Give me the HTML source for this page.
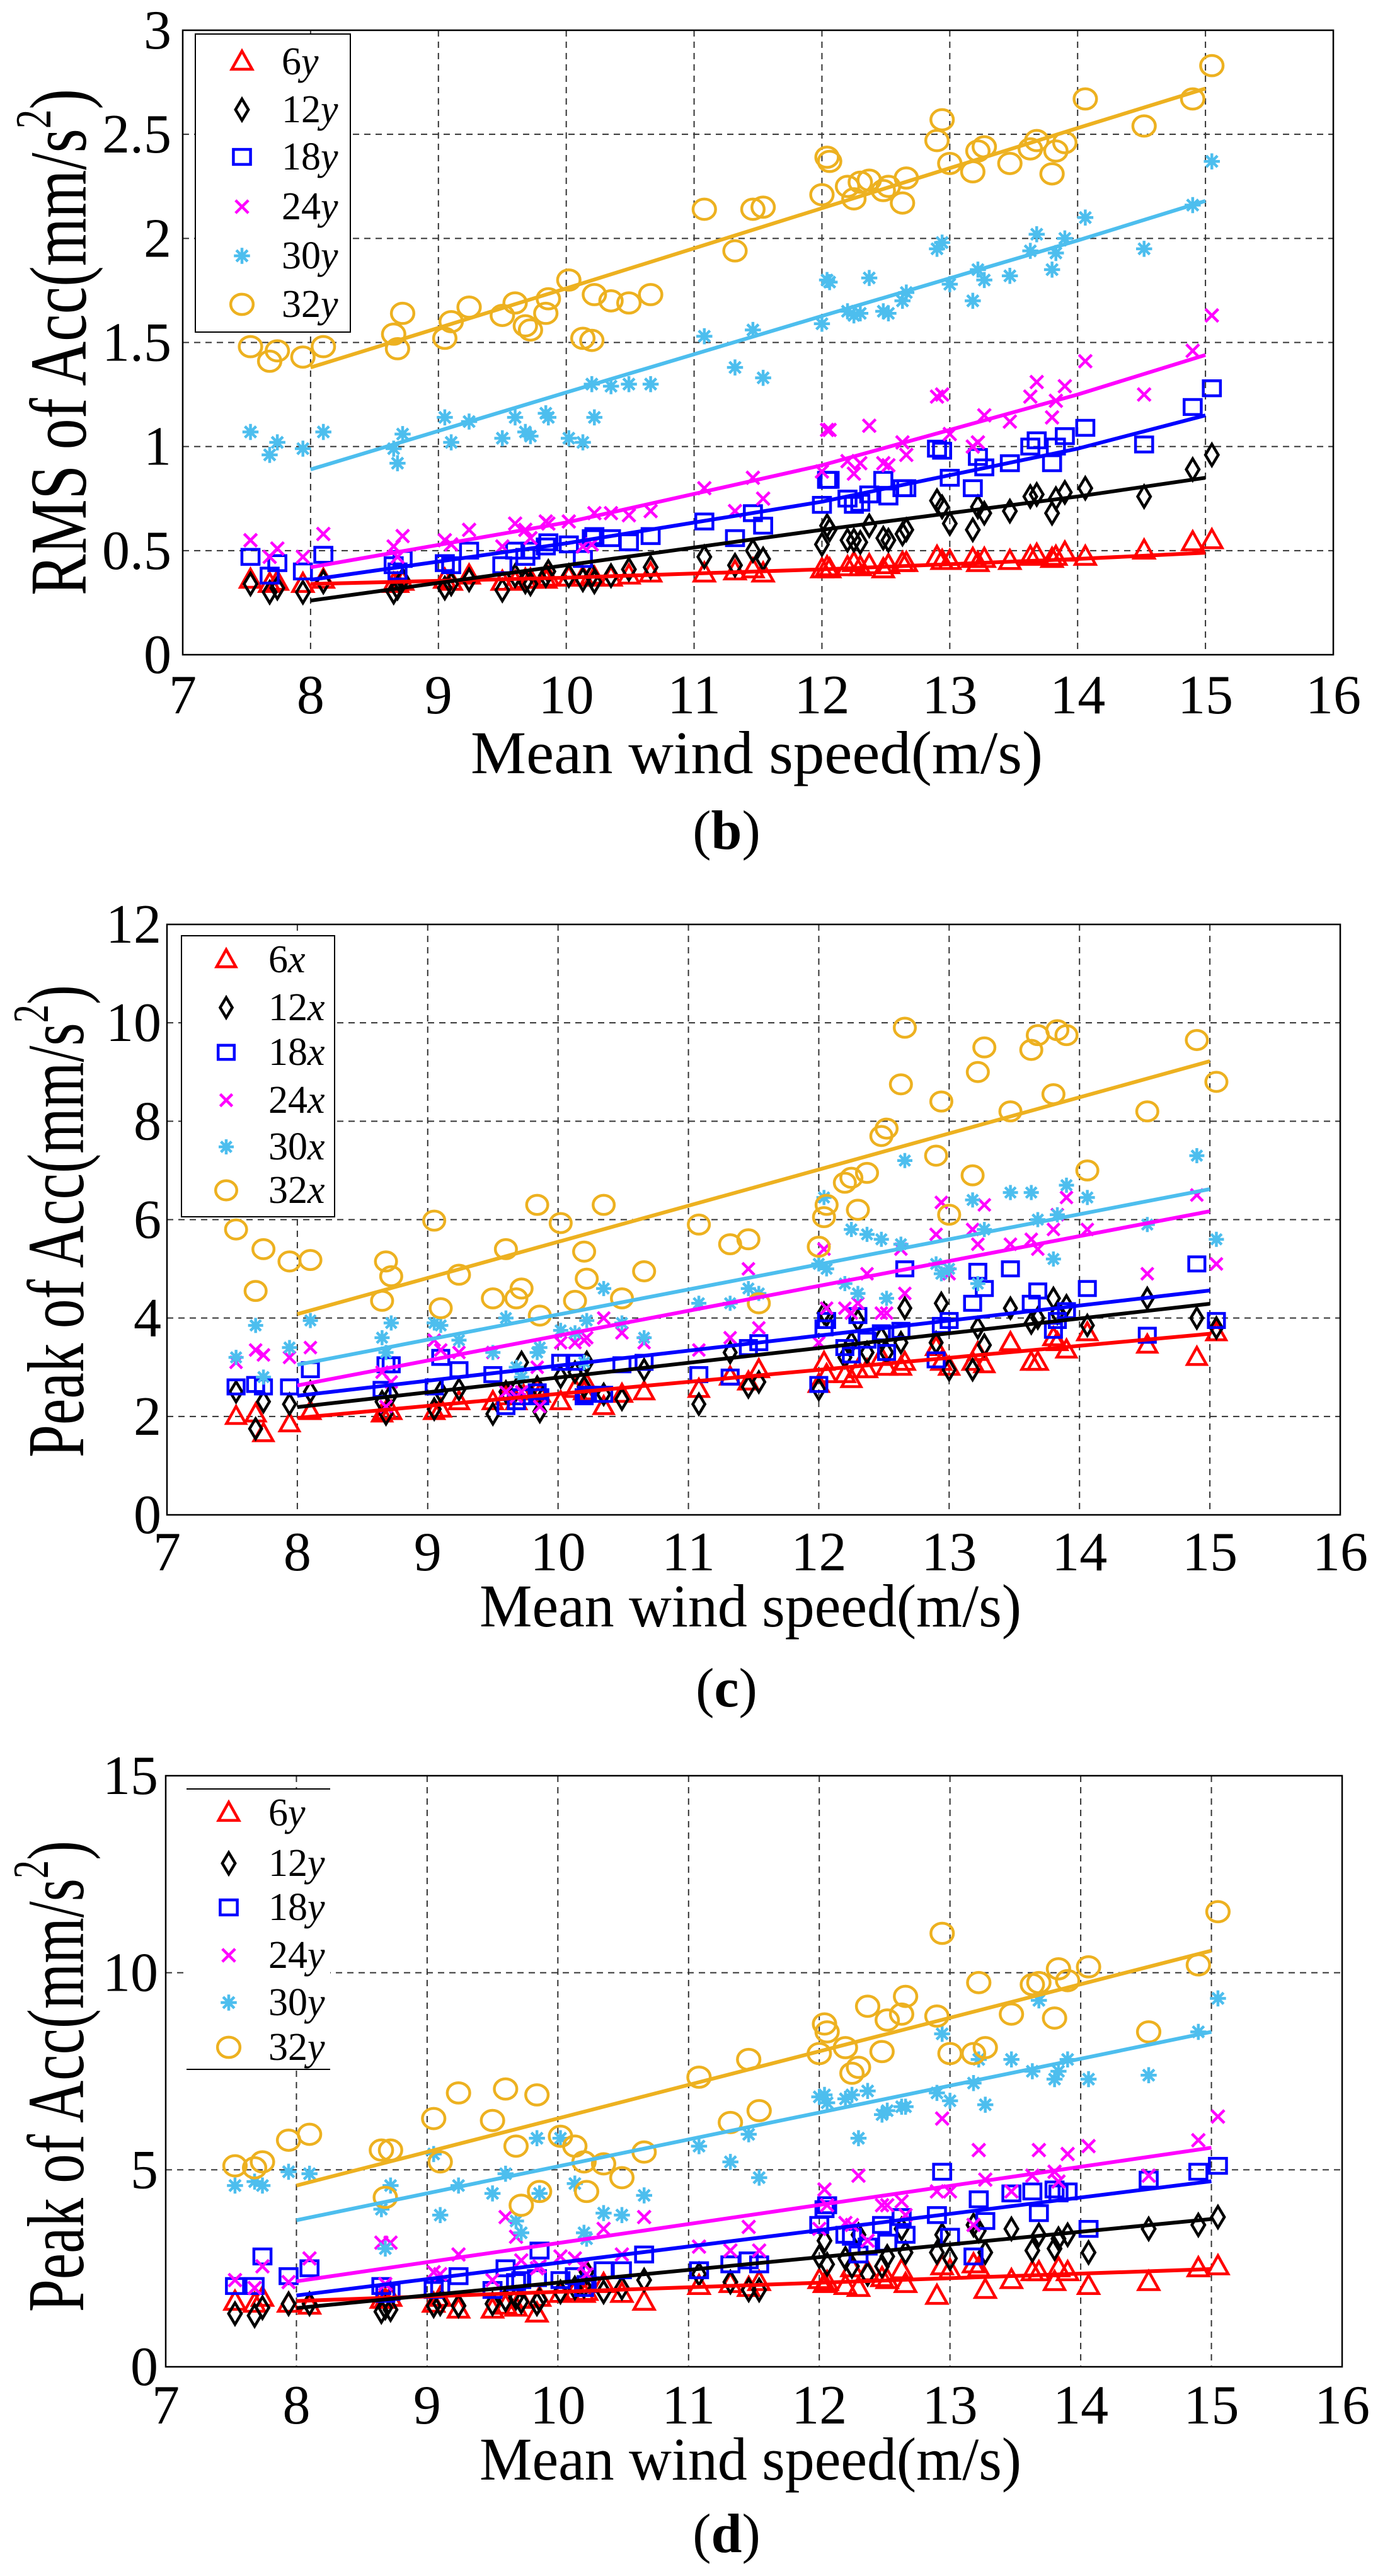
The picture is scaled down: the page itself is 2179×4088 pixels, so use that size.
<!DOCTYPE html>
<html><head><meta charset="utf-8">
<style>
html,body{margin:0;padding:0;background:#fff;}
svg{display:block;}
text{font-family:"Liberation Serif",serif;}
</style></head>
<body>
<svg id="fig" xmlns="http://www.w3.org/2000/svg" width="2179" height="4088" viewBox="0 0 2179 4088">
<rect width="2179" height="4088" fill="#fff"/>
</svg>
<script>
// shared wind speeds
const X = [7.53,7.68,7.74,7.94,8.1,8.65,8.68,8.72,9.05,9.1,9.24,9.5,9.6,9.68,9.72,9.84,9.86,10.02,10.13,10.2,10.22,10.35,10.49,10.66,11.08,11.32,11.46,11.54,12.0,12.04,12.06,12.2,12.25,12.3,12.37,12.48,12.52,12.63,12.66,12.9,12.94,13.0,13.18,13.22,13.27,13.47,13.63,13.68,13.8,13.83,13.9,14.06,14.52,14.9,15.05];
const seriesNames = ["6","12","18","24","30","32"];
const xTicks = [7,8,9,10,11,12,13,14,15,16];
// panel b: RMS
const B6 = [0.36,0.34,0.35,0.34,0.36,0.34,0.34,0.35,0.36,0.35,0.38,0.35,0.35,0.36,0.36,0.36,0.37,0.37,0.37,0.38,0.37,0.37,0.38,0.39,0.39,0.4,0.41,0.39,0.41,0.42,0.41,0.42,0.44,0.42,0.43,0.41,0.43,0.44,0.44,0.47,0.45,0.45,0.46,0.44,0.46,0.45,0.47,0.48,0.46,0.47,0.49,0.47,0.5,0.54,0.55];
const B12 = [0.34,0.3,0.32,0.3,0.35,0.3,0.32,0.36,0.32,0.34,0.36,0.31,0.38,0.35,0.34,0.38,0.4,0.38,0.36,0.38,0.35,0.38,0.41,0.42,0.47,0.43,0.5,0.46,0.53,0.62,0.6,0.55,0.55,0.54,0.62,0.56,0.55,0.58,0.6,0.74,0.71,0.63,0.6,0.71,0.68,0.69,0.76,0.77,0.68,0.75,0.78,0.8,0.76,0.89,0.96];
const B18 = [0.47,0.38,0.44,0.4,0.48,0.43,0.4,0.46,0.44,0.43,0.5,0.43,0.5,0.47,0.5,0.52,0.54,0.53,0.46,0.56,0.57,0.56,0.54,0.57,0.64,0.56,0.68,0.62,0.72,0.84,0.84,0.75,0.72,0.73,0.77,0.84,0.76,0.8,0.8,0.99,0.98,0.85,0.8,0.95,0.9,0.92,1.0,1.03,0.92,1.0,1.05,1.09,1.01,1.19,1.28];
const B24 = [0.55,0.47,0.51,0.47,0.58,0.52,0.47,0.57,0.55,0.53,0.6,0.52,0.63,0.6,0.56,0.64,0.63,0.64,0.52,0.53,0.68,0.68,0.67,0.69,0.8,0.69,0.85,0.75,0.88,1.08,1.08,0.93,0.87,0.92,1.1,0.92,0.91,1.02,0.96,1.24,1.25,1.06,1.0,1.02,1.15,1.12,1.24,1.31,1.14,1.22,1.29,1.41,1.25,1.46,1.63];
const B30 = [1.07,0.96,1.02,0.99,1.07,0.99,0.92,1.06,1.14,1.02,1.12,1.04,1.14,1.07,1.05,1.16,1.14,1.04,1.02,1.3,1.14,1.29,1.3,1.3,1.53,1.38,1.56,1.33,1.59,1.8,1.79,1.65,1.63,1.64,1.81,1.65,1.64,1.7,1.74,1.95,1.98,1.78,1.7,1.85,1.8,1.82,1.94,2.02,1.85,1.93,2.0,2.1,1.95,2.16,2.37];
const B32 = [1.48,1.41,1.46,1.43,1.48,1.54,1.47,1.64,1.52,1.6,1.67,1.63,1.69,1.58,1.56,1.64,1.71,1.8,1.52,1.51,1.73,1.7,1.69,1.73,2.14,1.94,2.14,2.15,2.21,2.39,2.37,2.25,2.19,2.27,2.28,2.23,2.25,2.17,2.29,2.47,2.57,2.36,2.32,2.42,2.44,2.36,2.43,2.47,2.31,2.42,2.46,2.67,2.54,2.67,2.83];
const FITX_B = [8,10,12,14,15];
const FB6 = [0.34,0.37,0.41,0.46,0.49];
const FB12 = [0.26,0.43,0.6,0.76,0.85];
const FB18 = [0.36,0.535,0.735,0.99,1.15];
const FB24 = [0.42,0.635,0.91,1.25,1.44];
const FB30 = [0.89,1.26,1.627,1.99,2.18];
const FB32 = [1.38,1.76,2.145,2.53,2.72];
const yTicksB = [0,0.5,1,1.5,2,2.5,3];
const yTickLabelsB = ["0","0.5","1","1.5","2","2.5","3"];
// panel c: Peak x
const C6 = [2.0,2.05,1.65,1.85,2.1,2.05,2.1,2.1,2.1,2.15,2.3,2.3,2.4,2.3,2.5,2.55,2.45,2.3,2.55,2.5,2.65,2.2,2.45,2.5,2.55,2.8,2.7,2.95,2.65,3.1,2.85,2.85,2.75,2.95,2.95,3.2,3.0,3.0,3.1,3.4,3.1,3.0,3.1,3.3,3.05,3.5,3.1,3.1,3.6,3.5,3.35,3.7,3.45,3.2,3.7];
const C12 = [2.5,1.75,2.3,2.25,2.5,2.3,2.05,2.45,2.15,2.5,2.55,2.05,2.5,2.55,3.1,2.6,2.1,2.8,2.9,2.6,3.1,2.45,2.35,2.95,2.25,3.3,2.6,2.7,2.55,4.1,4.05,3.2,3.5,3.95,3.3,3.6,3.3,3.5,4.2,3.5,4.3,2.95,2.95,3.8,3.45,4.2,3.9,4.0,4.4,4.1,4.25,3.85,4.4,4.0,3.8];
const C18 = [2.6,2.65,2.6,2.6,2.95,2.55,3.05,3.05,2.6,3.2,2.95,2.85,2.2,2.3,2.4,2.5,2.4,3.1,3.1,2.4,2.45,2.45,3.05,3.1,2.85,2.8,3.4,3.5,2.65,3.8,3.95,3.4,3.25,4.05,3.55,3.7,3.3,3.75,5.0,3.15,3.85,3.95,4.3,4.95,4.6,5.0,4.3,4.55,3.75,3.95,4.15,4.6,3.65,5.1,3.95];
const C24 = [3.1,3.35,3.25,3.2,3.4,2.9,2.2,2.7,3.55,3.35,3.3,3.3,2.5,2.4,2.5,3.0,2.2,3.5,3.5,3.55,3.6,4.0,3.7,3.5,3.35,3.6,5.0,3.8,3.5,5.4,4.2,4.2,4.1,4.3,4.9,4.1,4.1,5.4,4.5,5.7,6.35,4.9,5.8,5.5,6.3,5.5,5.6,5.4,5.8,6.1,6.45,5.8,4.9,6.5,5.1];
const C30 = [3.2,3.85,2.8,3.4,3.95,3.6,3.3,3.9,3.9,3.85,3.55,3.3,4.0,3.0,2.8,3.3,3.4,3.75,3.7,3.1,3.95,4.6,3.9,3.6,4.3,4.3,4.6,4.5,5.1,6.45,5.0,4.7,5.8,4.5,5.7,5.6,4.4,5.5,7.2,5.1,4.9,5.0,6.4,4.7,5.8,6.55,6.55,6.0,5.2,6.1,6.7,6.45,5.9,7.3,5.6];
const C32 = [5.8,4.55,5.4,5.15,5.18,4.35,5.15,4.85,5.98,4.2,4.88,4.4,5.4,4.4,4.6,6.3,4.05,5.93,4.35,5.35,4.8,6.3,4.4,4.95,5.9,5.5,5.6,4.3,5.45,6.05,6.3,6.75,6.85,6.2,6.95,7.7,7.85,8.75,9.9,7.3,8.4,6.1,6.9,9.0,9.5,8.2,9.45,9.75,8.55,9.85,9.75,7.0,8.2,9.65,8.8];
const FITX_CD = [8,15];
const FC6 = [1.97,3.68];
const FC12 = [2.19,4.29];
const FC18 = [2.42,4.56];
const FC24 = [2.63,6.17];
const FC30 = [3.05,6.62];
const FC32 = [4.08,9.22];
const yTicksC = [0,2,4,6,8,10,12];
const yTickLabelsC = ["0","2","4","6","8","10","12"];
// panel d: Peak y
const D6 = [1.65,1.6,1.75,1.6,1.55,1.7,1.7,1.75,1.6,1.75,1.45,1.45,1.55,1.5,1.7,1.35,1.75,1.85,1.9,1.85,1.9,2.1,1.85,1.65,2.05,2.1,2.0,2.15,2.2,2.1,2.15,2.05,2.5,2.0,2.4,2.25,2.2,2.45,2.1,1.8,2.55,2.45,2.6,2.5,1.95,2.2,2.4,2.4,2.15,2.5,2.4,2.05,2.15,2.5,2.55];
const D12 = [1.35,1.3,1.5,1.6,1.6,1.4,1.5,1.45,1.55,1.6,1.55,1.6,1.7,1.75,1.65,1.6,1.7,1.9,2.0,2.05,2.4,1.9,2.0,2.2,2.35,2.15,1.95,1.95,2.8,3.2,2.6,2.75,2.55,3.35,2.35,2.55,2.8,3.5,2.9,2.9,3.35,2.75,3.6,3.45,2.9,3.5,2.95,3.35,3.0,3.25,3.35,2.9,3.5,3.6,3.8];
const D18 = [2.05,2.05,2.8,2.3,2.5,2.05,1.85,1.9,1.95,2.0,2.3,1.95,2.5,2.15,2.2,2.25,2.95,2.2,2.3,2.0,2.1,2.45,2.45,2.85,2.45,2.6,2.7,2.6,3.6,4.0,4.1,3.35,3.3,2.85,3.05,3.6,3.15,3.8,3.35,3.85,4.95,3.3,2.8,4.25,3.7,4.4,4.45,3.9,4.5,4.4,4.45,3.5,4.75,4.95,5.1];
const D24 = [2.2,2.0,2.55,2.15,2.75,3.15,2.1,3.15,2.4,2.35,2.85,2.2,3.8,3.3,2.7,2.5,2.55,2.8,2.75,2.6,2.35,3.5,2.85,3.8,3.05,2.95,3.55,2.95,3.5,4.5,4.1,3.65,3.6,4.85,3.2,4.1,4.1,4.2,3.85,4.45,6.3,4.45,3.6,5.5,4.75,4.45,4.85,5.5,4.95,4.7,5.4,5.6,4.85,5.75,6.35];
const D30 = [4.6,4.7,4.6,4.95,4.9,4.0,3.0,4.6,5.4,3.85,4.6,4.4,4.9,3.7,3.4,5.8,4.4,5.8,4.65,3.4,3.25,3.9,3.85,4.35,5.6,5.2,5.9,4.8,6.85,6.9,6.7,6.8,6.9,5.8,7.0,6.4,6.5,6.6,6.6,6.95,8.45,6.75,7.2,7.8,6.65,7.8,7.5,9.3,7.3,7.5,7.8,7.3,7.4,8.5,9.35];
const D32 = [5.1,5.05,5.2,5.75,5.9,5.5,4.3,5.5,6.3,5.2,6.95,6.25,7.05,5.6,4.1,6.9,4.45,5.85,5.6,5.2,4.45,5.15,4.8,5.45,7.35,6.2,7.8,6.5,7.95,8.7,8.5,8.1,7.45,7.6,9.15,8.0,8.8,8.95,9.4,8.9,11.0,7.95,7.95,9.75,8.1,8.95,9.7,9.75,8.85,10.1,9.8,10.15,8.5,10.2,11.55];
const FD6 = [1.67,2.48];
const FD12 = [1.49,3.75];
const FD18 = [1.81,4.71];
const FD24 = [2.17,5.56];
const FD30 = [3.72,8.5];
const FD32 = [4.6,10.56];
const yTicksD = [0,5,10,15];
const yTickLabelsD = ["0","5","10","15"];

const NS="http://www.w3.org/2000/svg";
const svg=document.getElementById('fig');
const COLORS=["#ff0000","#000000","#0000ff","#ff00ff","#4dbeee","#edb120"];
const MARK=["tri","dia","sq","x","star","circ"];
function mk(tag,attrs,parent){const e=document.createElementNS(NS,tag);for(const k in attrs)e.setAttribute(k,attrs[k]);(parent||svg).appendChild(e);return e;}

function marker(g,type,cx,cy,s,color){
  let e;
  const sw=4.5;
  if(type==="tri"){e=mk('polygon',{points:`${cx},${cy-s} ${cx-s*0.95},${cy+s*0.7} ${cx+s*0.95},${cy+s*0.7}`,fill:'none',stroke:color,'stroke-width':sw},g);}
  else if(type==="dia"){e=mk('polygon',{points:`${cx},${cy-s} ${cx+s*0.6},${cy} ${cx},${cy+s} ${cx-s*0.6},${cy}`,fill:'none',stroke:color,'stroke-width':sw},g);}
  else if(type==="sq"){e=mk('rect',{x:cx-s*0.8,y:cy-s*0.7,width:s*1.6,height:s*1.4,fill:'none',stroke:color,'stroke-width':sw},g);}
  else if(type==="x"){const r=s*0.6;e=mk('path',{d:`M${cx-r},${cy-r}L${cx+r},${cy+r}M${cx-r},${cy+r}L${cx+r},${cy-r}`,stroke:color,'stroke-width':sw},g);}
  else if(type==="star"){const r=s*0.75;e=mk('path',{d:`M${cx-r},${cy}L${cx+r},${cy}M${cx},${cy-r}L${cx},${cy+r}M${cx-r*0.7},${cy-r*0.7}L${cx+r*0.7},${cy+r*0.7}M${cx-r*0.7},${cy+r*0.7}L${cx+r*0.7},${cy-r*0.7}`,stroke:color,'stroke-width':sw},g);}
  else {e=mk('ellipse',{cx:cx,cy:cy,rx:s*1.05,ry:s*0.95,fill:'none',stroke:color,'stroke-width':sw},g);}
  return e;
}

function panel(cfg){
  const g=mk('g',{});
  
  
  const L=cfg.L,R=cfg.R,T=cfg.T,B=cfg.B;
  const sx=v=>L+(v-7)/9*(R-L);
  const sy=v=>B-v/cfg.ymax*(B-T);
  const grid=mk('g',{},g);
  
  
  xTicks.forEach(t=>{ if(t>7&&t<16) mk('line',{x1:sx(t),x2:sx(t),y1:T,y2:B,stroke:'#333','stroke-width':2,'stroke-dasharray':'10,8'},grid);});
  cfg.yt.forEach(t=>{ if(t>0&&t<cfg.ymax) mk('line',{x1:L,x2:R,y1:sy(t),y2:sy(t),stroke:'#333','stroke-width':2,'stroke-dasharray':'10,8'},grid);});
  const fr=mk('rect',{x:L,y:T,width:R-L,height:B-T,fill:'none',stroke:'#000','stroke-width':2.5},g);
  
  
  xTicks.forEach(t=>{
    const tx=mk('text',{x:sx(t),y:cfg.xtb,'font-size':88,'text-anchor':'middle'},g);tx.textContent=String(t);
    
    
  });
  cfg.yt.forEach((t,i)=>{
    const ty=mk('text',{x:cfg.ytr,y:sy(t)+29,'font-size':88,'text-anchor':'end'},g);ty.textContent=cfg.ytl[i];
    
    
  });
  cfg.data.forEach((arr,si)=>{
    const sg=mk('g',{},g);
    
    
    arr.forEach((v,i)=>{
      const m=marker(sg,MARK[si],sx(X[i]),sy(v),cfg.ms,COLORS[si]);
      
      
    });
  });
  cfg.fits.forEach((arr,si)=>{
    const pts=arr.map((v,i)=>sx(cfg.fitx[i])+','+sy(v)).join(' ');
    const pl=mk('polyline',{points:pts,fill:'none',stroke:COLORS[si],'stroke-width':6},g);
    
    
  });
  const lg=mk('g',{},g);
  
  
  const lb=cfg.leg;
  if(lb.box){mk('rect',{x:lb.x0,y:lb.y0,width:lb.x1-lb.x0,height:lb.y1-lb.y0,fill:'#fff',stroke:'#000','stroke-width':2},lg);}
  else{mk('rect',{x:lb.x0,y:lb.y0,width:lb.x1-lb.x0,height:lb.y1-lb.y0,fill:'#fff'},lg);
    mk('line',{x1:lb.x0,x2:lb.x1,y1:lb.y0,y2:lb.y0,stroke:'#000','stroke-width':2},lg);
    mk('line',{x1:lb.x0,x2:lb.x1,y1:lb.y1,y2:lb.y1,stroke:'#000','stroke-width':2},lg);}
  lb.ys.forEach((y,si)=>{
    const it=mk('g',{},lg);
    
    
    marker(it,MARK[si],lb.mx,y,lb.ms,COLORS[si]);
    const t=mk('text',{x:lb.tx,y:y+20,'font-size':62},it);
    t.textContent=seriesNames[si];
    const ts=mk('tspan',{'font-style':'italic'},t);ts.textContent=cfg.suf;
  });
  const xt=mk('text',{x:cfg.xtitle[0],y:cfg.xtitle[1],'font-size':96,textLength:cfg.xtitle[2],lengthAdjust:'spacingAndGlyphs'},g);
  xt.textContent='Mean wind speed(m/s)';
  
  
  const [yx,ycy,ylen]=cfg.ytitle;
  const yt=mk('text',{x:0,y:0,'font-size':128,'text-anchor':'middle',textLength:ylen,lengthAdjust:'spacingAndGlyphs',transform:`translate(${yx},${ycy}) rotate(-90)`},g);
  yt.appendChild(document.createTextNode(cfg.ylab+' of Acc(mm/s'));
  const sup=mk('tspan',{'font-size':80,dy:-56},yt);sup.textContent='2';
  const cl=mk('tspan',{'font-size':128,dy:56},yt);cl.textContent=')';
  
  
  const cap=mk('text',{x:1153,y:cfg.capy,'font-size':88,'text-anchor':'middle'},g);
  cap.appendChild(document.createTextNode('('));
  const bb=mk('tspan',{'font-weight':'bold'},cap);bb.textContent=cfg.cap;
  cap.appendChild(document.createTextNode(')'));
  
  
}

panel({name:'panel-b',L:290,R:2116,T:48,B:1039,ymax:3,yt:yTicksB,ytl:yTickLabelsB,xtb:1132,ytr:272,ms:17,suf:'y',
  data:[B6,B12,B18,B24,B30,B32],fits:[FB6,FB12,FB18,FB24,FB30,FB32],fitx:FITX_B,
  leg:{box:true,x0:310,y0:54,x1:556,y1:527,ys:[98,174,249,328,406,483],mx:384,tx:447,ms:17},
  xtitle:[747,1227,908],ytitle:[136,543,804],ylab:'RMS',capy:1347,cap:'b'});
panel({name:'panel-c',L:265,R:2127,T:1467,B:2404,ymax:12,yt:yTicksC,ytl:yTickLabelsC,xtb:2492,ytr:256,ms:16,suf:'x',
  data:[C6,C12,C18,C24,C30,C32],fits:[FC6,FC12,FC18,FC24,FC30,FC32],fitx:FITX_CD,
  leg:{box:true,x0:288,y0:1485,x1:531,y1:1931,ys:[1523,1599,1670,1746,1820,1889],mx:359,tx:426,ms:16},
  xtitle:[761,2581,860],ytitle:[132,1938,750],ylab:'Peak',capy:2708,cap:'c'});
panel({name:'panel-d',L:263,R:2130,T:2818,B:3756,ymax:15,yt:yTicksD,ytl:yTickLabelsD,xtb:3846,ytr:251,ms:17,suf:'y',
  data:[D6,D12,D18,D24,D30,D32],fits:[FD6,FD12,FD18,FD24,FD30,FD32],fitx:FITX_CD,
  leg:{box:false,x0:296,y0:2839,x1:524,y1:3284,ys:[2877,2957,3027,3103,3178,3249],mx:363,tx:426,ms:17},
  xtitle:[761,3935,860],ytitle:[132,3295,748],ylab:'Peak',capy:4050,cap:'d'});
</script>
</body></html>
